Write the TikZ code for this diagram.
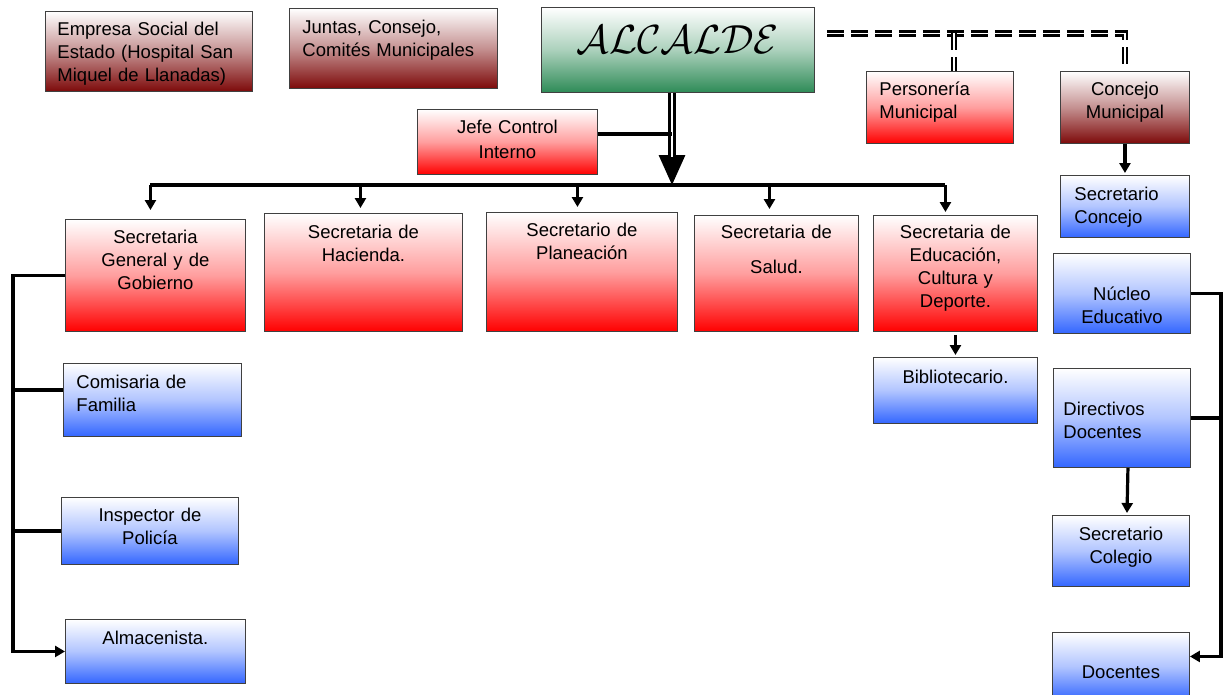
\documentclass[tikz,border=0pt]{standalone}
\usepackage{fontspec}
\usepackage{graphicx}
\setmainfont{Liberation Sans}
\usetikzlibrary{arrows.meta}

\definecolor{redend}{RGB}{255,0,0}
\definecolor{blueend}{RGB}{51,102,255}
\definecolor{wineend}{RGB}{125,10,10}
\definecolor{greenend}{RGB}{46,139,87}
\newcommand{\officefont}{\fontsize{18.5}{23}\selectfont}
\newcommand{\mayorname}{\scalebox{2.35}{$\mathcal{ALCALDE}$}}

\begin{document}
\begin{tikzpicture}[x=1pt, y=-1pt,
    office/.style={draw=black!75, line width=0.9pt, anchor=north west, inner ysep=0pt, inner xsep=4pt, font=\officefont, align=center},
    redoffice/.style={office, top color=white, bottom color=redend, middle color=redend!38},
    blueoffice/.style={office, top color=white, bottom color=blueend, middle color=blueend!38},
    wineoffice/.style={office, top color=white, bottom color=wineend, middle color=wineend!45},
    mayoroffice/.style={office, top color=white, bottom color=greenend, middle color=greenend!40},
    flushed/.style={align=left, inner xsep=#1},
    wire/.style={line width=3.2pt},
    wirearrow/.style={wire, -{Triangle[length=10pt, width=11pt]}},
    dashwire/.style={double, line width=2.6pt, double distance=1.2pt, dash pattern=on 17pt off 7pt}
]
\useasboundingbox (0,0) rectangle (1228,694);

% top row
\node[wineoffice, flushed=12pt, text width=183pt, text height=24pt, text depth=56pt] (empresa) at (45,11) {Empresa Social del\\Estado (Hospital San\\Miquel de Llanadas)};
\node[wineoffice, flushed=13pt, text width=182pt, text height=25pt, text depth=55pt] (juntas) at (289,8) {Juntas, Consejo,\\Comités Municipales};
\node[mayoroffice, text width=265pt, text height=46pt, text depth=39pt] (alcalde) at (541,7) {\mayorname};
\node[redoffice, text width=172pt, text height=24pt, text depth=41pt] (jefe) at (417,109) {Jefe Control\\[2pt]Interno};
\node[redoffice, flushed=13pt, text width=121pt, text height=24pt, text depth=48pt] (personeria) at (866,71) {Personería\\Municipal};
\node[wineoffice, text width=121pt, text height=24pt, text depth=48pt] (concejo) at (1060,71) {Concejo\\Municipal};
\node[blueoffice, flushed=14pt, text width=101pt, text height=25pt, text depth=37pt] (seconcejo) at (1060,175) {Secretario\\Concejo};

% secretarias
\node[redoffice, text width=172pt, text height=24pt, text depth=88pt] (general) at (65,219) {Secretaria\\General y de\\Gobierno};
\node[redoffice, text width=190pt, text height=25pt, text depth=93pt] (hacienda) at (264,213) {Secretaria de\\Hacienda.};
\node[redoffice, text width=183pt, text height=24pt, text depth=95pt] (planeacion) at (486,212) {Secretario de\\Planeación};
\node[redoffice, text width=156pt, text height=23pt, text depth=93pt] (salud) at (694,215) {Secretaria de\\[12pt]Salud.};
\node[redoffice, text width=156pt, text height=23pt, text depth=93pt] (educacion) at (873,215) {Secretaria de\\Educación,\\Cultura y\\Deporte.};
\node[blueoffice, text width=156pt, text height=26pt, text depth=40pt] (biblio) at (873,357) {Bibliotecario.};

% left column
\node[blueoffice, flushed=13pt, text width=152pt, text height=25pt, text depth=48pt] (comisaria) at (63,363) {Comisaria de\\Familia};
\node[blueoffice, text width=169pt, text height=24pt, text depth=43pt] (inspector) at (61,497) {Inspector de\\Policía};
\node[blueoffice, text width=172pt, text height=25pt, text depth=39pt] (almacen) at (65,619) {Almacenista.};

% right column
\node[blueoffice, text width=129pt, text height=47pt, text depth=33pt] (nucleo) at (1053,253) {Núcleo\\Educativo};
\node[blueoffice, flushed=10pt, text width=117pt, text height=47pt, text depth=52pt] (directivos) at (1053,368) {Directivos\\Docentes};
\node[blueoffice, text width=129pt, text height=25pt, text depth=46pt] (colegio) at (1052,515) {Secretario\\Colegio};
\node[blueoffice, text width=129pt, text height=46pt, text depth=22pt] (docentes) at (1052,632) {Docentes};

% connectors
\coordinate (busmid) at (672,185);
\coordinate (dashrow) at ([yshift=16.5pt]alcalde.east);
\coordinate (spine) at (13,272);
\coordinate (rspine) at (1221,292);

\draw[wire, -{Triangle[length=30pt, width=26pt]}] (alcalde.south -| busmid) -- (busmid);
\draw[wire, double, line width=3pt, double distance=2.5pt, shorten >=28pt] (alcalde.south -| busmid) -- (busmid);
\draw[wire] ([yshift=8pt]jefe.east) -- ([yshift=8pt]jefe.east -| busmid);
\draw[wire] ([xshift=-5pt]busmid -| general.north) -- ([xshift=-10pt]busmid -| educacion.north);
\foreach \n/\d/\g in {general/-5/9, hacienda/-3/5, planeacion/-4.5/5, salud/-7/6, educacion/-10/3}
  \draw[wirearrow] ([xshift=\d pt]busmid -| \n.north) -- ([xshift=\d pt, yshift=\g pt]\n.north);
\draw[wirearrow, shorten <=3pt, shorten >=2pt] (educacion.south) -- (biblio.north);

\draw[wirearrow] (general.west) -- (general.west -| spine) -- (almacen.west -| spine) -- (almacen.west);
\draw[wire] ([yshift=10pt]comisaria.west) -- ([yshift=10pt]comisaria.west -| spine);
\draw[wire] (inspector.west) -- (inspector.west -| spine);

\draw[wirearrow] (nucleo.east) -- (nucleo.east -| rspine) -- ([yshift=10pt]docentes.east -| rspine) -- ([yshift=10pt]docentes.east);
\draw[wire] (directivos.east) -- (directivos.east -| rspine);
\draw[wirearrow, shorten >=2pt] ([xshift=6pt]directivos.south) -- ([xshift=6pt]colegio.north);
\draw[wirearrow, shorten >=2pt] (concejo.south) -- (seconcejo.north);

\draw[dashwire, shorten <=12pt] (dashrow) -| (concejo.north);
\draw[dashwire] ([xshift=14pt]dashrow -| personeria.north) -- ([xshift=14pt]personeria.north);
\end{tikzpicture}
\end{document}
